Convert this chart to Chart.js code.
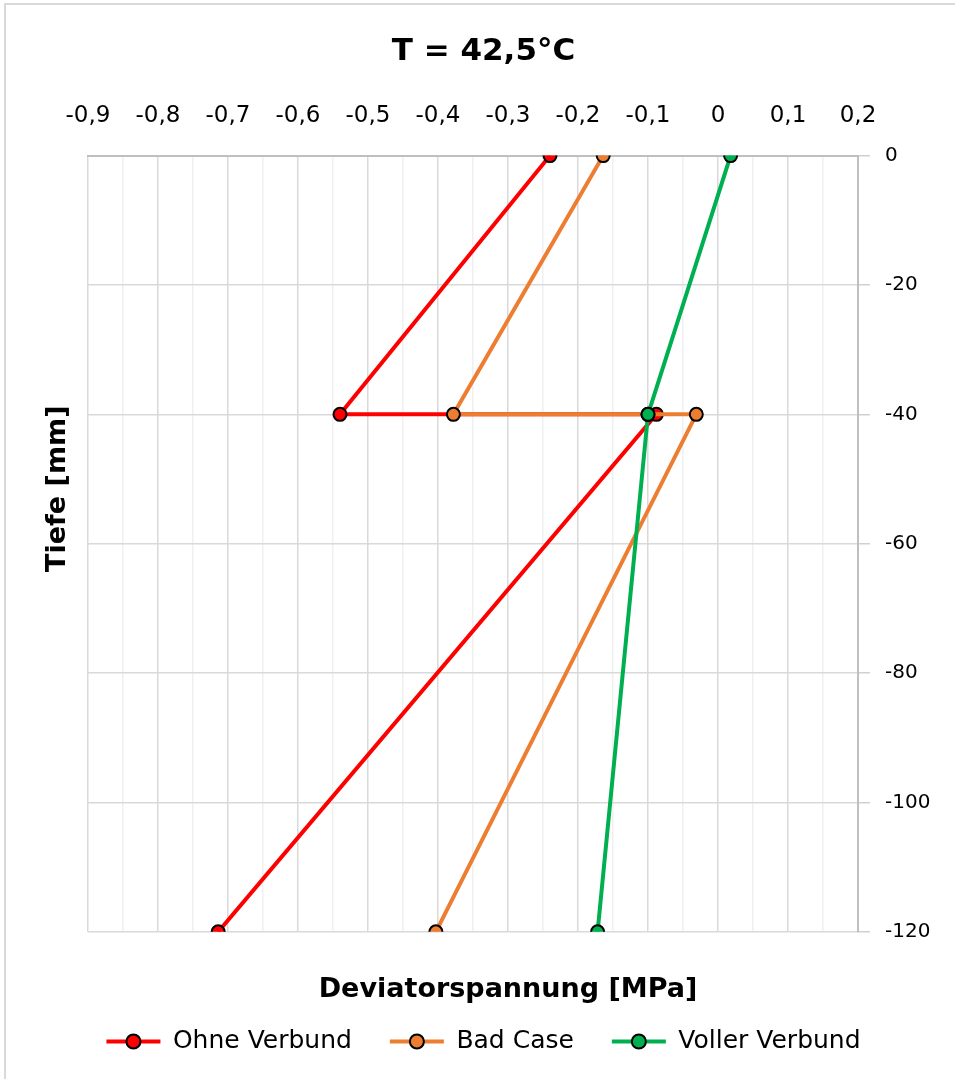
<!DOCTYPE html>
<html>
<head>
<meta charset="utf-8">
<script src="https://cdn.jsdelivr.net/npm/chart.js@4.4.1/dist/chart.umd.min.js"></script>
<style>
  html, body { margin: 0; padding: 0; background: #fff; overflow: hidden; }
</style>
</head>
<body>
<canvas id="diagramm" width="955" height="1079"></canvas>
<script>
// Tiefe [mm] der Messpunkte
const tiefe = [0, -40, -40, -120];
// Deviatorspannung [MPa] je Variante
const ohneVerbund = [-0.24, -0.54, -0.088, -0.714];
const badCase = [-0.164, -0.378, -0.031, -0.403];
const vollerVerbund = [0.018, -0.10, -0.10, -0.172];

const xMin = -0.9, xMax = 0.2;
const yTicks = [0, -20, -40, -60, -80, -100, -120];

const schrift = 'DejaVu Sans';
const titelX = 'Deviatorspannung [MPa]';
const titelY = 'Tiefe [mm]';

function punkte(werte) {
    return werte.map((v, i) => ({ x: v, y: tiefe[i] }));
}

function istHaupt(v) {
    return Math.abs(Math.round(v * 20)) % 2 === 0;
}

// grauer Diagrammrahmen (nur links und oben sichtbar)
const rahmen = {
    id: 'rahmen',
    beforeDraw(chart) {
        const ctx = chart.ctx;
        ctx.save();
        ctx.strokeStyle = '#d9d9d9';
        ctx.lineWidth = 2;
        ctx.beginPath();
        ctx.moveTo(5, chart.height + 5);
        ctx.lineTo(5, 4);
        ctx.lineTo(chart.width + 5, 4);
        ctx.stroke();
        ctx.restore();
    }
};

// Kreis-Marker in der Legende auf die Linie setzen
const legendenMarker = {
    id: 'legendenMarker',
    afterDraw(chart) {
        const legend = chart.legend;
        if (!legend || !legend.legendHitBoxes) return;
        const ctx = chart.ctx;
        const bw = legend.options.labels.boxWidth;
        legend.legendHitBoxes.forEach((box, i) => {
            const item = legend.legendItems[i];
            const ds = chart.data.datasets[item.datasetIndex];
            const cx = box.left + bw / 2;
            const cy = box.top + box.height / 2;
            ctx.save();
            ctx.beginPath();
            ctx.arc(cx, cy, 7, 0, Math.PI * 2);
            ctx.fillStyle = ds.pointBackgroundColor;
            ctx.fill();
            ctx.lineWidth = 2;
            ctx.strokeStyle = '#000';
            ctx.stroke();
            ctx.restore();
        });
    }
};

// Achsentitel wie im Original leicht versetzt
const achsenTitel = {
    id: 'achsenTitel',
    afterDraw(chart) {
        const a = chart.chartArea;
        const ctx = chart.ctx;
        ctx.save();
        ctx.fillStyle = '#000';
        ctx.font = 'bold 27px "' + schrift + '"';
        ctx.textAlign = 'center';
        ctx.textBaseline = 'middle';
        ctx.fillText(titelX, (a.left + a.right) / 2 + 35, a.bottom + 58);
        ctx.translate(a.left - 30, (a.top + a.bottom) / 2 - 55);
        ctx.rotate(-Math.PI / 2);
        ctx.fillText(titelY, 0, 0);
        ctx.restore();
    }
};

function serie(label, werte, farbe, reihenfolge) {
    return {
        label: label,
        data: punkte(werte),
        showLine: true,
        borderColor: farbe,
        backgroundColor: farbe,
        borderWidth: 4,
        pointRadius: 6.5,
        pointHoverRadius: 6.5,
        pointBackgroundColor: farbe,
        pointBorderColor: '#000',
        pointBorderWidth: 2,
        order: reihenfolge
    };
}

new Chart(document.getElementById('diagramm'), {
    type: 'scatter',
    data: {
        datasets: [
            serie('Ohne Verbund', ohneVerbund, '#ff0000', 2),
            serie('Bad Case', badCase, '#ed7d31', 1),
            serie('Voller Verbund', vollerVerbund, '#00b050', 0)
        ]
    },
    options: {
        responsive: false,
        animation: false,
        layout: { padding: { left: 12, right: 0, top: 0, bottom: 15 } },
        plugins: {
            title: {
                display: true,
                text: 'T = 42,5°C',
                color: '#000',
                font: { family: schrift, size: 31, weight: 'bold' },
                padding: { top: 33, bottom: 0 }
            },
            legend: {
                position: 'bottom',
                labels: {
                    color: '#000',
                    font: { family: schrift, size: 25 },
                    boxWidth: 54,
                    boxHeight: 4,
                    padding: 38,
                    sort: (a, b) => a.datasetIndex - b.datasetIndex,
                    generateLabels: function(chart) {
                        return Chart.defaults.plugins.legend.labels.generateLabels(chart).map(l => {
                            l.fillStyle = l.strokeStyle;
                            l.lineWidth = 0;
                            return l;
                        });
                    }
                }
            },
            tooltip: { enabled: false }
        },
        scales: {
            x: {
                type: 'linear',
                position: 'top',
                min: xMin,
                max: xMax,
                afterFit: s => { s.height = 85.4; },
                ticks: {
                    stepSize: 0.05,
                    autoSkip: false,
                    maxRotation: 0,
                    padding: 26,
                    color: '#000',
                    font: { family: schrift, size: 23 },
                    callback: function(v) {
                        if (!istHaupt(v)) return '';
                        const r = Math.round(v * 10) / 10;
                        return r === 0 ? '0' : r.toFixed(1).replace('.', ',');
                    }
                },
                grid: {
                    drawTicks: false,
                    lineWidth: 1.5,
                    color: ctx => istHaupt(ctx.tick.value) ? '#d9d9d9' : '#f0f0f0'
                },
                border: { color: '#bfbfbf', width: 2 }
            },
            // leere Platzhalter fuer die Achsentitel
            x2: {
                type: 'linear',
                position: 'bottom',
                min: xMin,
                max: xMax,
                afterFit: s => { s.height = 59.2; },
                ticks: { display: false },
                grid: { display: false, drawTicks: false },
                border: { display: false }
            },
            y2: {
                type: 'linear',
                position: 'left',
                min: -120,
                max: 0,
                afterFit: s => { s.width = 76; },
                ticks: { display: false },
                grid: { display: false, drawTicks: false },
                border: { display: false }
            },
            y: {
                type: 'linear',
                position: 'right',
                min: -120,
                max: 0,
                afterFit: s => { s.width = 97; },
                afterBuildTicks: s => { s.ticks = yTicks.map(v => ({ value: v })); },
                ticks: {
                    padding: 15,
                    color: '#000',
                    font: { family: schrift, size: 20 },
                    callback: v => String(v)
                },
                grid: {
                    color: '#d9d9d9',
                    lineWidth: 1.5,
                    tickLength: 12,
                    tickColor: '#d0d0d0'
                },
                border: { color: '#bfbfbf', width: 2 }
            }
        }
    },
    plugins: [rahmen, legendenMarker, achsenTitel]
});
</script>
</body>
</html>
